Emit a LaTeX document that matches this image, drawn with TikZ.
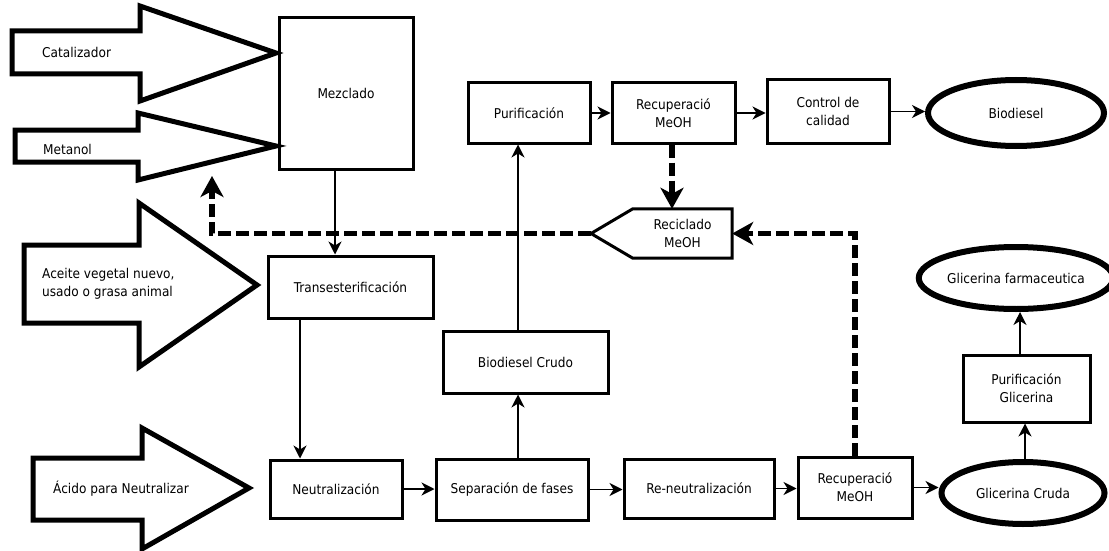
\documentclass[tikz,border=0pt]{standalone}
\usepackage{fontspec}
\setmainfont{DejaVu Sans Condensed}
\usetikzlibrary{arrows.meta,shapes.geometric,positioning,calc}

\tikzset{
  texto/.style={font=\fontsize{13.5}{18}\selectfont, align=center},
  caja/.style={texto, draw, line width=3pt, inner sep=0pt},
  ovalo/.style={texto, draw, ellipse, line width=6pt, inner sep=0pt},
  rotulo/.style={texto, anchor=west, align=left, inner sep=0pt},
  bloque/.style={line width=5pt, line join=miter},
  flecha/.style={line width=1.3pt, -{Stealth[length=13pt,width=13pt,inset=4pt]}},
  reciclo/.style={line width=5.5pt, dash pattern=on 13pt off 5pt, -{Stealth[length=21pt,width=23pt,inset=6pt]}}
}

\begin{document}
\begin{tikzpicture}[x=1pt,y=-1pt]
        \useasboundingbox (0,0) rectangle (1109,551);
        % entradas
        \draw[bloque] (12,31) -- (140,31) -- (140,6) -- (276,53) -- (140,101) -- (140,74) -- (12,74) -- cycle;
        \node[rotulo] (catal) at (42,52) {Catalizador};
        \draw[bloque] (15,130) -- (138,130) -- (138,113) -- (276,146) -- (138,180) -- (138,162) -- (15,162) -- cycle;
        \node[rotulo] (metan) at (43,149) {Metanol};
        \draw[bloque] (24,245) -- (139,245) -- (139,203) -- (257,285) -- (139,367) -- (139,323) -- (24,323) -- cycle;
        \node[rotulo] (aceite) at (42,284) {Aceite vegetal nuevo,\\usado o grasa animal};
        \draw[bloque] (33,458) -- (142,458) -- (142,428) -- (249,488) -- (142,549) -- (142,520) -- (33,520) -- cycle;
        \node[rotulo] (acido) at (53,489) {Ácido para Neutralizar};

        % etapas
        \node[caja, minimum width=134pt, minimum height=151pt] (mezcla) at (346,93.5) {Mezclado};
        \node[caja, minimum width=165pt, minimum height=62pt] (trans) at (350.5,287) {Transesterificación};
        \node[caja, minimum width=132pt, minimum height=58pt] (neutra) at (336,489) {Neutralización};
        \node[caja, minimum width=152pt, minimum height=61pt] (separa) at (512,489.5) {Separación de fases};
        \node[caja, minimum width=165pt, minimum height=62pt] (crudo) at (525.5,362) {Biodiesel Crudo};
        \node[caja, minimum width=122pt, minimum height=60pt] (purif) at (529,113) {Purificación};
        \node[caja, minimum width=123pt, minimum height=60pt] (recup1) at (673.5,113) {Recuperació\\MeOH};
        \node[caja, minimum width=122pt, minimum height=63pt] (control) at (828,111.5) {Control de\\calidad};
        \node[ovalo, minimum width=176pt, minimum height=66pt] (biodiesel) at (1016,113) {Biodiesel};
        \node[caja, minimum width=150pt, minimum height=59pt] (reneu) at (699,488.5) {Re-neutralización};
        \node[caja, minimum width=114pt, minimum height=61pt] (recup2) at (855,487.5) {Recuperació\\MeOH};
        \node[ovalo, minimum width=163pt, minimum height=62pt] (glicruda) at (1023,493) {Glicerina Cruda};
        \node[caja, minimum width=127pt, minimum height=67pt] (purglic) at (1026.5,388.5) {Purificación\\Glicerina};
        \node[ovalo, minimum width=158pt, minimum height=62pt] (glifarma) at (1016,278) {Glicerina farmaceutica};

        \node[texto, inner sep=0pt, minimum width=99pt, minimum height=49pt] (recicla) at (682.5,233.5) {Reciclado\\MeOH};
        \coordinate (punta) at (591,233.5);
        \draw[line width=3pt] (recicla.north west) -- (recicla.north east) -- (recicla.south east) -- (recicla.south west) -- (punta) -- cycle;

        % conexiones
        \coordinate (xmez) at (335,0);
        \coordinate (xtra) at (300,0);
        \coordinate (xsep) at (518,0);
        \coordinate (xgli) at (1025,0);
        \coordinate (xfar) at (1020,0);
        \draw[flecha] (mezcla.south -| xmez) -- (trans.north -| xmez);
        \draw[flecha] (trans.south -| xtra) -- (neutra.north -| xtra);
        \draw[flecha] (neutra.east) -- (neutra.east -| separa.west);
        \draw[flecha] (separa.east) -- (separa.east -| reneu.west);
        \draw[flecha] (reneu.east) -- (reneu.east -| recup2.west);
        \draw[flecha] (recup2.east) -- (recup2.east -| glicruda.west);
        \draw[flecha] (separa.north -| xsep) -- (crudo.south -| xsep);
        \draw[flecha] (crudo.north -| xsep) -- (purif.south -| xsep);
        \draw[flecha] (purif.east) -- (purif.east -| recup1.west);
        \draw[flecha] (recup1.east) -- (recup1.east -| control.west);
        \draw[flecha] (control.east) -- (control.east -| biodiesel.west);
        \draw[flecha] (glicruda.north -| xgli) -- (purglic.south -| xgli);
        \draw[flecha] (purglic.north -| xfar) -- (glifarma.south -| xfar);

        % metanol recuperado
        \coordinate (xrec) at (672,0);
        \coordinate (retorno) at (212,176);
        \draw[reciclo] (recup1.south -| xrec) -- (recicla.north -| xrec);
        \draw[reciclo] (recup2.north) |- (recicla.east);
        \draw[reciclo] (punta) -| (retorno);
\end{tikzpicture}
\end{document}
